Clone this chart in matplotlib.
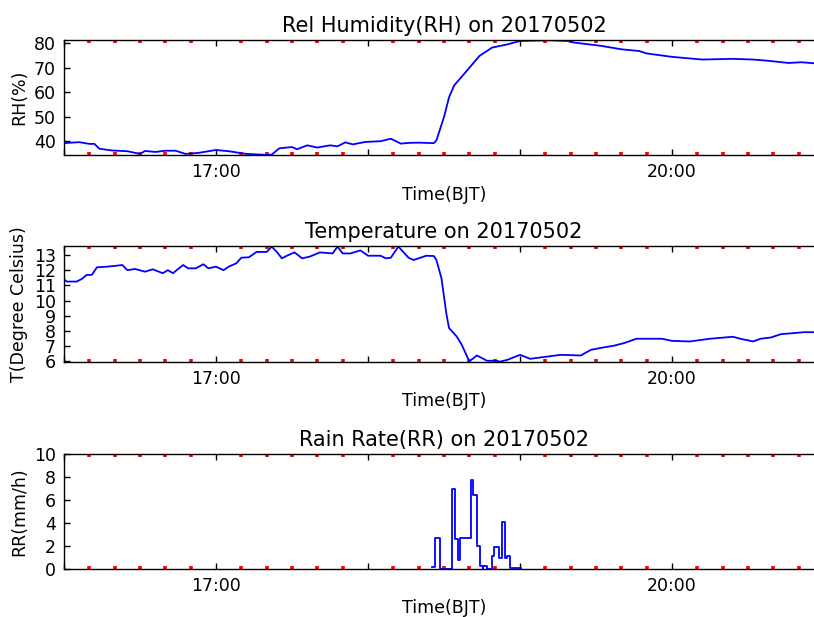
import matplotlib
matplotlib.use("Agg")
import matplotlib.pyplot as plt
import matplotlib.dates as mdates
import pandas as pd
from matplotlib.ticker import FuncFormatter, MultipleLocator

DATE = "2017-05-02"
X_START = "16:00"
X_END = "21:00"
LABEL_HOURS = [17, 20]

rh_time = ["16:00", "16:06", "16:10", "16:12", "16:14", "16:19", "16:25", "16:30", "16:32",
           "16:36", "16:40", "16:44", "16:48", "16:53", "17:00", "17:05", "17:12", "17:20",
           "17:22", "17:25", "17:30", "17:32", "17:36", "17:40", "17:45", "17:48", "17:51",
           "17:54", "17:59", "18:05", "18:09", "18:13", "18:16", "18:20", "18:26", "18:27",
           "18:30", "18:32", "18:34", "18:39", "18:44", "18:49", "18:55", "19:00", "19:11",
           "19:19", "19:21", "19:32", "19:40", "19:47", "19:50", "20:00", "20:12", "20:24",
           "20:32", "20:38", "20:46", "20:51", "20:56"]
rh_values = [39.1, 39.5, 38.8, 38.8, 36.8, 36.1, 35.8, 34.7, 35.9,
             35.5, 36.0, 36.0, 34.7, 35.1, 36.3, 35.8, 34.7, 34.3,
             34.4, 37.0, 37.5, 36.6, 38.2, 37.3, 38.2, 37.8, 39.4,
             38.6, 39.6, 39.9, 40.9, 38.9, 39.2, 39.3, 39.1, 40.2,
             49.8, 57.9, 62.7, 68.7, 74.8, 78.2, 79.5, 80.9, 81.2,
             80.9, 80.3, 78.9, 77.5, 76.8, 75.8, 74.4, 73.3, 73.6,
             73.3, 72.8, 71.9, 72.2, 71.8]

t_time = ["16:00", "16:01", "16:05", "16:07", "16:09", "16:11", "16:13", "16:17", "16:21",
          "16:23", "16:25", "16:28", "16:32", "16:35", "16:39", "16:41", "16:43", "16:47",
          "16:49", "16:52", "16:55", "16:57", "17:00", "17:03", "17:05", "17:08", "17:10",
          "17:13", "17:16", "17:20", "17:22", "17:24", "17:26", "17:28", "17:31", "17:34",
          "17:37", "17:41", "17:46", "17:48", "17:50", "17:53", "17:57", "18:00", "18:05",
          "18:07", "18:09", "18:12", "18:16", "18:18", "18:23", "18:26", "18:27", "18:29",
          "18:31", "18:32", "18:35", "18:37", "18:40", "18:43", "18:47", "18:51", "18:52",
          "18:55", "19:00", "19:04", "19:16", "19:24", "19:28", "19:33", "19:37", "19:41",
          "19:46", "19:56", "20:00", "20:07", "20:15", "20:24", "20:27", "20:32", "20:35",
          "20:39", "20:43", "20:48", "20:52", "20:56"]
t_values = [11.42, 11.25, 11.25, 11.42, 11.69, 11.69, 12.19, 12.23, 12.30,
            12.34, 12.00, 12.08, 11.90, 12.06, 11.80, 12.00, 11.80, 12.34,
            12.12, 12.12, 12.39, 12.12, 12.23, 12.00, 12.23, 12.45, 12.82,
            12.85, 13.20, 13.20, 13.55, 13.20, 12.78, 12.95, 13.17, 12.78,
            12.89, 13.17, 13.10, 13.55, 13.10, 13.10, 13.30, 12.95, 12.95,
            12.78, 12.82, 13.55, 12.82, 12.67, 12.95, 12.93, 12.67, 11.47,
            9.06, 8.19, 7.64, 7.09, 6.00, 6.39, 6.04, 6.04, 5.98,
            6.10, 6.43, 6.17, 6.43, 6.39, 6.76, 6.92, 7.03, 7.20,
            7.49, 7.49, 7.35, 7.31, 7.49, 7.62, 7.49, 7.31, 7.49,
            7.57, 7.79, 7.86, 7.92, 7.92]

rr_time = ["18:25:24", "18:26:30", "18:28:18", "18:33:06", "18:34:18",
           "18:35:36", "18:36:24", "18:40:36", "18:41:36", "18:43:00", "18:44:06",
           "18:45:12", "18:45:24", "18:46:54", "18:48:54", "18:49:54", "18:51:48",
           "18:52:48", "18:54:06", "18:54:54", "18:56:00", "19:00:18"]
rr_values = [0.1, 2.67, 0.0, 6.93, 2.6,
             0.7, 2.67, 7.74, 6.43, 2.0, 0.26,
             0.0, 0.26, 0.0, 1.13, 1.86, 0.93,
             4.06, 0.95, 1.13, 0.08, 0.0]

panels = [
    dict(title="Rel Humidity(RH) on 20170502", ylabel="RH(%)", time=rh_time,
         values=rh_values, ylim=(34.25, 81.3), ystep=10, steps=False),
    dict(title="Temperature on 20170502", ylabel="T(Degree Celsius)", time=t_time,
         values=t_values, ylim=(5.96, 13.59), ystep=1, steps=False),
    dict(title="Rain Rate(RR) on 20170502", ylabel="RR(mm/h)", time=rr_time,
         values=rr_values, ylim=(0, 10), ystep=2, steps=True),
]


def to_dt(ts):
    return pd.to_datetime([f"{DATE} {t}" for t in ts])


def fmt(x, pos):
    d = mdates.num2date(x)
    if d.hour in LABEL_HOURS and d.minute == 0:
        return d.strftime("%H:%M")
    return ""


W, H = 814, 617
fig = plt.figure(figsize=(W / 100, H / 100), dpi=100)
boxes = [(40, 155), (246, 362), (454, 568.5)]
xl = to_dt([X_START, X_END])

for p, (top, bot) in zip(panels, boxes):
    ax = fig.add_axes([64 / W, 1 - bot / H, 760 / W, (bot - top) / H])
    x = to_dt(p["time"])
    if p["steps"]:
        ax.plot(x, p["values"], color="blue", lw=1.3, drawstyle="steps-post", zorder=2)
    else:
        ax.plot(x, p["values"], color="blue", lw=1.3, zorder=2)
    ax.set_xlim(xl[0], xl[1])
    ax.set_ylim(*p["ylim"])
    ax.yaxis.set_major_locator(MultipleLocator(p["ystep"]))
    ax.xaxis.set_major_locator(mdates.HourLocator())
    ax.xaxis.set_minor_locator(mdates.MinuteLocator(byminute=range(0, 60, 10)))
    ax.xaxis.set_major_formatter(FuncFormatter(fmt))
    ax.tick_params(which="major", direction="in", length=4, width=1, top=True,
                   right=True, labelsize=12.5, pad=6, color="black")
    ax.tick_params(axis="x", which="minor", direction="in", length=2.2, width=2.6,
                   color="red", top=True, bottom=True)
    for s in ax.spines.values():
        s.set_linewidth(1.0)
        s.set_zorder(3)
    ax.set_title(p["title"], fontsize=15, pad=6)
    ax.set_xlabel("Time(BJT)", fontsize=12.5, labelpad=3)
    ax.set_ylabel(p["ylabel"], fontsize=12.5, labelpad=4)

fig.savefig("out.png", dpi=100)
